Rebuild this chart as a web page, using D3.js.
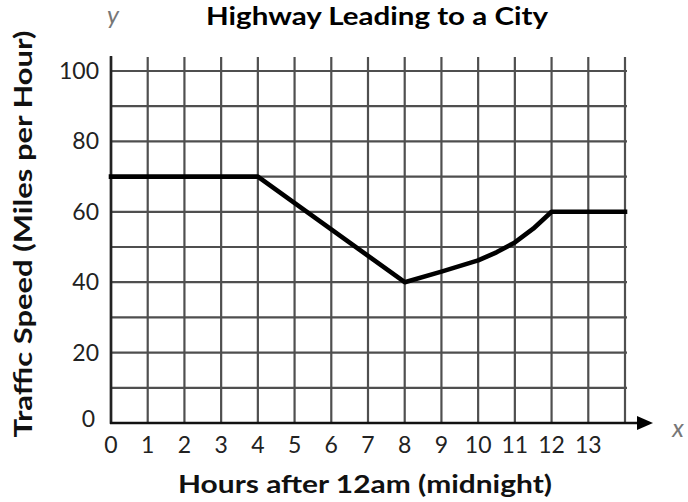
<!DOCTYPE html>
<html>
<head>
<meta charset="utf-8">
<script src="https://cdn.jsdelivr.net/npm/d3@7"></script>
<style>
  body { margin: 0; background: #fff; }
  svg { display: block; font-family: Lato, "Open Sans", sans-serif; }
</style>
</head>
<body>
<div id="chart"></div>
<script>
// hours after midnight and the traffic speed
const hours = [0, 4, 8, 9, 10, 10.5, 11, 11.5, 12, 14];
const speeds = [70, 70, 40, 43, 46.2, 48.5, 51.3, 55.2, 60, 60];

// tick labels
const xTicks = [0, 1, 2, 3, 4, 5, 6, 7, 8, 9, 10, 11, 12, 13];
const yTicks = [0, 20, 40, 60, 80, 100];
const gridX = d3.range(0, 15);
const gridY = d3.range(0, 110, 10);

const title = "Highway Leading to a City";
const xTitle = "Hours after 12am (midnight)";
const yTitle = "Traffic Speed (Miles per Hour)";

const W = 688, H = 502;
const gridTop = 57;

const svg = d3
  .select("#chart")
  .append("svg")
  .attr("width", W)
  .attr("height", H);

const x = d3.scaleLinear().domain([0, 14]).range([111, 625]);
const y = d3.scaleLinear().domain([0, 100]).range([423, 71]);

// grid
const grid = svg.append("g").attr("stroke", "#4f4f4f").attr("stroke-width", 2.2);

grid
  .selectAll(".vline")
  .data(gridX)
  .enter()
  .append("line")
  .attr("x1", (d) => x(d))
  .attr("x2", (d) => x(d))
  .attr("y1", gridTop)
  .attr("y2", y(0));

grid
  .selectAll(".hline")
  .data(gridY)
  .enter()
  .append("line")
  .attr("x1", x(0))
  .attr("x2", x(14) + 2)
  .attr("y1", (d) => y(d))
  .attr("y2", (d) => y(d));

// axes lines
svg
  .append("line")
  .attr("x1", x(0))
  .attr("x2", x(0))
  .attr("y1", gridTop - 1)
  .attr("y2", y(0) + 1)
  .attr("stroke", "#222")
  .attr("stroke-width", 2.6);

svg
  .append("line")
  .attr("x1", x(0) - 1)
  .attr("x2", 640)
  .attr("y1", y(0))
  .attr("y2", y(0))
  .attr("stroke", "#111")
  .attr("stroke-width", 2.6);

// arrow head on x axis
svg
  .append("path")
  .attr("d", `M637,${y(0) - 7}L653,${y(0)}L637,${y(0) + 7}Z`)
  .attr("fill", "#000");

// tick labels
svg
  .append("g")
  .selectAll("text")
  .data(xTicks)
  .enter()
  .append("text")
  .attr("x", (d) => x(d))
  .attr("y", 453)
  .attr("text-anchor", "middle")
  .attr("font-size", 23)
  .attr("fill", "#222")
  .text((d) => d);

svg
  .append("g")
  .selectAll("text")
  .data(yTicks)
  .enter()
  .append("text")
  .attr("x", (d) => (d === 0 ? 95 : 99))
  .attr("y", (d) => y(d) + (d === 0 ? 4 : 8))
  .attr("text-anchor", "end")
  .attr("font-size", 23)
  .attr("fill", "#222")
  .text((d) => d);

// the speed line
svg
  .append("path")
  .datum(hours.map((h, i) => ({ x: h, y: speeds[i] })))
  .attr("fill", "none")
  .attr("stroke", "#000")
  .attr("stroke-width", 4.6)
  .attr("stroke-linejoin", "round")
  .attr("stroke-linecap", "square")
  .attr(
    "d",
    d3
      .line()
      .x((d) => x(d.x))
      .y((d) => y(d.y))
  );

// titles
svg
  .append("text")
  .attr("x", 377)
  .attr("y", 25)
  .attr("text-anchor", "middle")
  .attr("font-size", 25)
  .attr("font-weight", "bold")
  .attr("fill", "#000")
  .attr("textLength", 342)
  .attr("lengthAdjust", "spacingAndGlyphs")
  .text(title);

svg
  .append("text")
  .attr("x", 365)
  .attr("y", 493)
  .attr("text-anchor", "middle")
  .attr("font-size", 25)
  .attr("font-weight", "bold")
  .attr("fill", "#111")
  .attr("textLength", 374)
  .attr("lengthAdjust", "spacingAndGlyphs")
  .text(xTitle);

svg
  .append("text")
  .attr("transform", "translate(32,234) rotate(-90)")
  .attr("text-anchor", "middle")
  .attr("font-size", 25)
  .attr("font-weight", "bold")
  .attr("fill", "#111")
  .attr("textLength", 407)
  .attr("lengthAdjust", "spacingAndGlyphs")
  .text(yTitle);

// variable names
svg
  .append("text")
  .attr("x", 113)
  .attr("y", 24)
  .attr("text-anchor", "middle")
  .attr("font-size", 25)
  .attr("font-style", "italic")
  .attr("fill", "#777")
  .text("y");

svg
  .append("text")
  .attr("x", 678)
  .attr("y", 437)
  .attr("text-anchor", "middle")
  .attr("font-size", 25)
  .attr("font-style", "italic")
  .attr("fill", "#777")
  .text("x");
</script>
</body>
</html>
